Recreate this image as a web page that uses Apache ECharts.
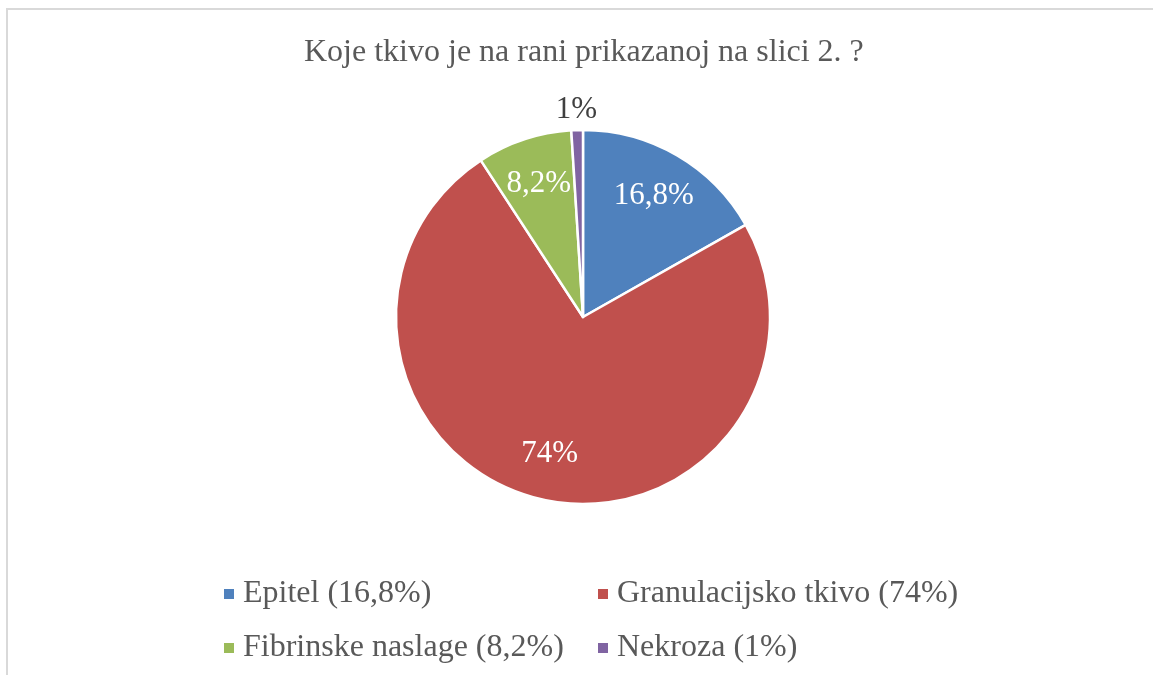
<!DOCTYPE html>
<html>
<head>
<meta charset="utf-8">
<script src="https://cdn.jsdelivr.net/npm/echarts@6/dist/echarts.min.js"></script>
<style>
  html, body { margin: 0; padding: 0; background: #fff; }
  #chart { width: 1153px; height: 675px; }
</style>
</head>
<body>
<div id="chart"></div>
<script>
// podaci s grafikona
var titleText = "Koje tkivo je na rani prikazanoj na slici 2. ?";
var categories = ["Epitel", "Granulacijsko tkivo", "Fibrinske naslage", "Nekroza"];
var values = [16.8, 74, 8.2, 1];
var colors = ["#4F81BD", "#C0504D", "#9BBB59", "#8064A2"];

function fmt(v) {
  return String(v).replace(".", ",") + "%";
}

var valueByName = {};
categories.forEach(function (c, i) { valueByName[c] = values[i]; });

var pieData = categories.map(function (c, i) {
  return { name: c, value: values[i], itemStyle: { color: colors[i] } };
});

// prozirni prstenovi samo za oznake (Excel ih stavlja dalje od sredista)
function labelRing(wantSmall) {
  return categories.map(function (c, i) {
    var small = values[i] < 2;
    return {
      name: c,
      value: values[i],
      itemStyle: { color: "rgba(0,0,0,0)" },
      label: { show: small === wantSmall }
    };
  });
}

var font = "'Liberation Serif', 'Times New Roman', serif";

function legendCol(left, names) {
  return {
    orient: "vertical",
    left: left,
    top: 578,
    padding: 0,
    itemGap: 22,
    itemWidth: 12,
    itemHeight: 12,
    icon: "rect",
    data: names,
    formatter: function (n) { return n + " (" + fmt(valueByName[n]) + ")"; },
    textStyle: { fontFamily: font, fontSize: 32, lineHeight: 32, color: "#595959", padding: [0, 0, 0, 3] }
  };
}

var chart = echarts.init(document.getElementById("chart"));
chart.setOption({
  animation: false,
  title: {
    text: titleText,
    left: 299,
    top: 32,
    textStyle: { fontFamily: font, fontSize: 32, fontWeight: "normal", color: "#595959" }
  },
  legend: [
    legendCol(222, [categories[0], categories[2]]),
    legendCol(596, [categories[1], categories[3]])
  ],
  graphic: [
    { type: "line", shape: { x1: 6, y1: 9, x2: 1153, y2: 9 }, style: { stroke: "#d9d9d9", lineWidth: 2 } },
    { type: "line", shape: { x1: 7, y1: 8, x2: 7, y2: 675 }, style: { stroke: "#d9d9d9", lineWidth: 2 } }
  ],
  series: [
    {
      type: "pie",
      center: [583, 317],
      radius: [0, 187],
      startAngle: 90,
      clockwise: true,
      avoidLabelOverlap: false,
      itemStyle: { borderColor: "#fff", borderWidth: 2.5 },
      label: { show: false },
      labelLine: { show: false },
      emphasis: { disabled: true },
      data: pieData
    },
    {
      type: "pie",
      silent: true,
      legendHoverLink: false,
      center: [583, 317],
      radius: [88, 187],
      startAngle: 90,
      clockwise: true,
      avoidLabelOverlap: false,
      label: {
        position: "inside",
        fontFamily: font,
        fontSize: 31,
        color: "#fff",
        formatter: function (p) { return fmt(p.value); }
      },
      labelLine: { show: false },
      emphasis: { disabled: true },
      data: labelRing(false)
    },
    {
      type: "pie",
      silent: true,
      legendHoverLink: false,
      center: [583, 317],
      radius: [188, 220],
      startAngle: 90,
      clockwise: true,
      avoidLabelOverlap: false,
      label: {
        position: "inside",
        fontFamily: font,
        fontSize: 31,
        color: "#404040",
        formatter: function (p) { return fmt(p.value); }
      },
      labelLine: { show: false },
      emphasis: { disabled: true },
      data: labelRing(true)
    }
  ]
});
</script>
</body>
</html>
